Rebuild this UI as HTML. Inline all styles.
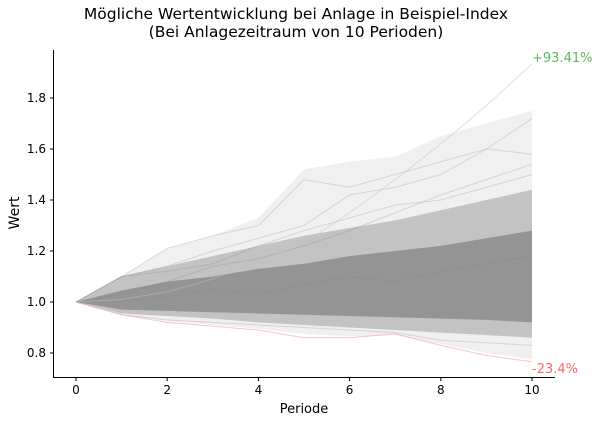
<!DOCTYPE html>
<html><head><meta charset="utf-8"><style>
html,body{margin:0;padding:0;background:#fff;}
svg text{font-family:"DejaVu Sans","Liberation Sans",sans-serif;}
</style></head><body>
<svg id="chart" width="601" height="423" viewBox="0 0 601 423" xmlns="http://www.w3.org/2000/svg">
<text x="296" y="19" font-size="15.5" text-anchor="middle" fill="#000">Mögliche Wertentwicklung bei Anlage in Beispiel-Index</text>
<text x="296" y="37" font-size="15.5" text-anchor="middle" fill="#000">(Bei Anlagezeitraum von 10 Perioden)</text>
<g id="bands"></g>
<g id="paths"></g>
<g id="axes"></g>
<text x="0" y="0" font-size="14" text-anchor="middle" transform="translate(19,213) rotate(-90)">Wert</text>
<text x="304" y="413" font-size="13" text-anchor="middle">Periode</text>
<text x="532" y="62" font-size="13" fill="#5cb85c">+93.41%</text>
<text x="532" y="373" font-size="13" fill="#f46a6a">-23.4%</text>
</svg>
<script>
const periods=[0,1,2,3,4,5,6,7,8,9,10];
const qMin=[1,0.95,0.925,0.91,0.895,0.875,0.865,0.87,0.835,0.80,0.775];
const q05=[1,0.955,0.945,0.935,0.92,0.91,0.90,0.89,0.88,0.87,0.86];
const q25=[1,0.97,0.965,0.96,0.955,0.95,0.945,0.94,0.935,0.93,0.92];
const q75=[1,1.045,1.08,1.10,1.13,1.15,1.18,1.20,1.22,1.25,1.28];
const q95=[1,1.10,1.14,1.18,1.22,1.26,1.29,1.32,1.36,1.40,1.44];
const qMax=[1,1.10,1.21,1.26,1.33,1.52,1.55,1.57,1.65,1.70,1.75];
const bestPath=[1,1.01,1.04,1.09,1.16,1.23,1.35,1.48,1.62,1.77,1.934];
const worstPath=[1,0.95,0.92,0.905,0.89,0.86,0.86,0.875,0.83,0.79,0.766];
const samplePaths=[
[1,1.10,1.21,1.26,1.30,1.48,1.45,1.50,1.55,1.60,1.58],
[1,1.10,1.14,1.20,1.25,1.30,1.42,1.45,1.50,1.60,1.72],
[1,1.03,1.08,1.14,1.17,1.22,1.28,1.35,1.42,1.48,1.54],
[1,1.10,1.12,1.15,1.22,1.28,1.33,1.38,1.40,1.45,1.50],
[1,0.95,0.93,0.92,0.91,0.90,0.89,0.88,0.85,0.84,0.83],
[1,1.0,1.02,1.05,1.03,1.07,1.10,1.08,1.12,1.15,1.18]
];
const xTicks=[0,2,4,6,8,10];
const yTicks=[0.8,1.0,1.2,1.4,1.6,1.8];
const NS="http://www.w3.org/2000/svg";
const xs=v=>76+v*45.6;
const ys=v=>302-(v-1)*255;
function mk(tag,attrs,parent){const e=document.createElementNS(NS,tag);for(const k in attrs)e.setAttribute(k,attrs[k]);parent.appendChild(e);return e;}
const bands=document.getElementById('bands');
function band(lo,hi,op,name){
 const pts=periods.map((p,i)=>xs(p)+','+ys(hi[i])).concat(periods.slice().reverse().map((p,j)=>{const i=periods.length-1-j;return xs(p)+','+ys(lo[i]);}));
 const e=mk('polygon',{points:pts.join(' '),fill:'#808080','fill-opacity':op},bands);
 
 
}
band(qMin,qMax,0.12,'band-min-max');
band(q05,q95,0.4,'band-5-95');
band(q25,q75,0.7,'band-25-75');
const pg=document.getElementById('paths');
function path(vals,color,op,name){
 const e=mk('polyline',{points:periods.map((p,i)=>xs(p)+','+ys(vals[i])).join(' '),fill:'none',stroke:color,'stroke-opacity':op,'stroke-width':1},pg);
 
 
}
samplePaths.forEach((s,i)=>path(s,'#808080',0.25,'sample-path'));
path(bestPath,'#a8d4a8',0.5,'best-path');
path(worstPath,'#f4a0a0',0.6,'worst-path');
const ax=document.getElementById('axes');
let e=mk('line',{x1:53.5,y1:50,x2:53.5,y2:377.5,stroke:'#000','stroke-width':1},ax);


e=mk('line',{x1:53,y1:377.5,x2:555,y2:377.5,stroke:'#000','stroke-width':1},ax);


xTicks.forEach(t=>{
 mk('line',{x1:xs(t),y1:377.5,x2:xs(t),y2:381,stroke:'#000'},ax);
 const tx=mk('text',{x:xs(t),y:394,'font-size':12,'text-anchor':'middle'},ax);
 tx.textContent=t;
 
 
});
yTicks.forEach(t=>{
 mk('line',{x1:50,y1:ys(t),x2:53.5,y2:ys(t),stroke:'#000'},ax);
 const tx=mk('text',{x:46,y:ys(t)+4,'font-size':12,'text-anchor':'end'},ax);
 tx.textContent=t.toFixed(1);
 
 
});
</script>
</body></html>
